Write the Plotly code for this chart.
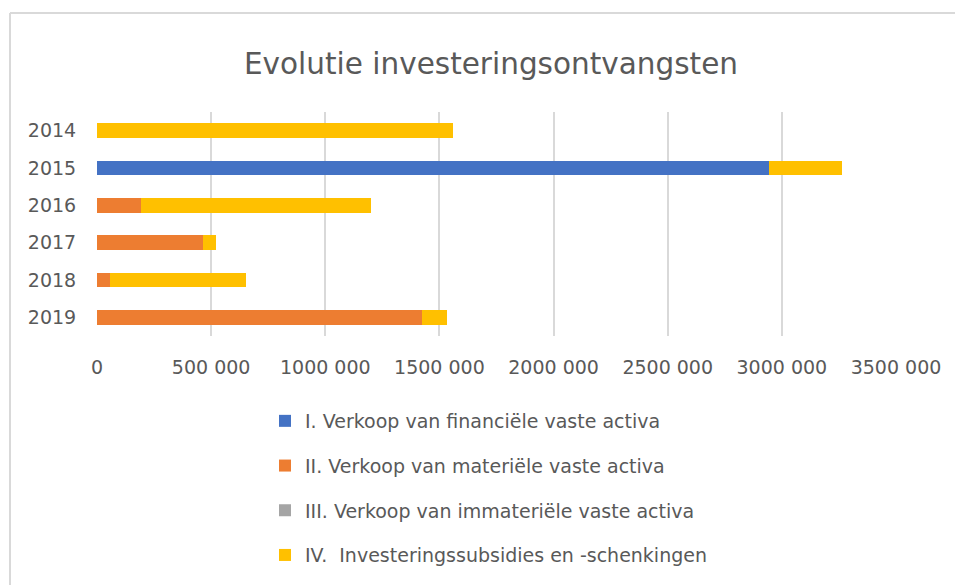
import plotly.graph_objects as go

years = ["2014", "2015", "2016", "2017", "2018", "2019"]
financiele = [0, 2945000, 0, 0, 0, 0]
materiele = [0, 0, 191000, 466000, 57000, 1423000]
immateriele = [0, 0, 0, 0, 0, 0]
subsidies = [1561000, 320000, 1011000, 57000, 594000, 112000]

series_names = [
    "I. Verkoop van financiële vaste activa",
    "II. Verkoop van materiële vaste activa",
    "III. Verkoop van immateriële vaste activa",
    "IV.  Investeringssubsidies en -schenkingen",
]
series_values = [financiele, materiele, immateriele, subsidies]
colors = ["#4472C4", "#ED7D31", "#A5A5A5", "#FFC000"]

x_tickvals = [0, 500000, 1000000, 1500000, 2000000, 2500000, 3000000, 3500000]
x_ticktext = ["0", "500 000", "1000 000", "1500 000", "2000 000", "2500 000", "3000 000", "3500 000"]

FONT = "DejaVu Sans, Open Sans, sans-serif"
TXT = "#595959"

fig = go.Figure()
for i, (name, vals, col) in enumerate(zip(series_names, series_values, colors)):
    fig.add_trace(go.Bar(
        y=years, x=vals, name=name, orientation="h",
        marker=dict(color=col, line=dict(width=0)),
        legendgroup=str(i),
    ))

# outer chart border (left and top edges)
x0 = (10 - 97) / 799
x1 = (955 - 97) / 799
ytop = (336 - 13) / 224
ybot = (336 - 585) / 224
shapes = [
    dict(type="line", xref="paper", yref="paper", x0=x0, x1=x0, y0=ybot, y1=ytop,
         line=dict(color="#d9d9d9", width=2)),
    dict(type="line", xref="paper", yref="paper", x0=x0, x1=x1, y0=ytop, y1=ytop,
         line=dict(color="#d9d9d9", width=2)),
]

fig.update_layout(
    width=955, height=585,
    margin=dict(l=97, r=59, t=112, b=249, autoexpand=False),
    paper_bgcolor="white", plot_bgcolor="white",
    barmode="stack", bargap=0.6,
    font=dict(family=FONT, color=TXT),
    title=dict(text="Evolutie investeringsontvangsten", x=491 / 955, xref="container",
               xanchor="center", y=1 - 64 / 585, yref="container", yanchor="middle",
               font=dict(size=29.5, color=TXT, family=FONT)),
    xaxis=dict(range=[0, 3500000], tickvals=x_tickvals, ticktext=x_ticktext,
               showgrid=True, gridcolor="#d9d9d9", gridwidth=1.5, zeroline=False,
               showline=False, ticks="outside", ticklen=14, tickcolor="rgba(0,0,0,0)",
               tickangle=0, automargin=False,
               tickfont=dict(size=19, color=TXT), fixedrange=True),
    yaxis=dict(autorange="reversed", showgrid=False, zeroline=False, showline=False,
               ticks="outside", ticklen=16, tickcolor="rgba(0,0,0,0)", automargin=False,
               tickfont=dict(size=19, color=TXT)),
    legend=dict(orientation="v", xref="paper", yref="paper",
                x=(265 - 97) / 799, xanchor="left", y=(336 - 402) / 224, yanchor="top",
                traceorder="grouped", tracegroupgap=17,
                font=dict(size=19, color=TXT), bgcolor="rgba(0,0,0,0)"),
    shapes=shapes,
    showlegend=True,
)

fig.write_html("out.html", config={"displayModeBar": False},
               post_script="document.body.style.margin='0px';")
